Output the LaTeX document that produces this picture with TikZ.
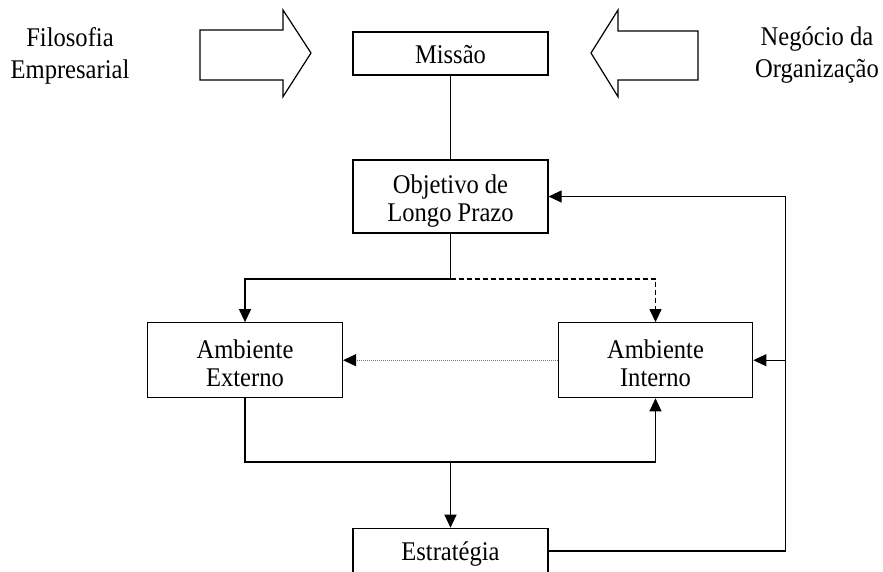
\documentclass[tikz,border=0pt]{standalone}
\usepackage{fontspec}
\setmainfont{Liberation Serif}[FakeStretch=0.91]
\usetikzlibrary{arrows.meta}
\begin{document}
\begin{tikzpicture}[x=1pt,y=-1pt,
  lw/.style={line width=1.2pt},
  boxnode/.style={draw, line width=1.2pt, minimum width=195pt, inner sep=0pt},
  txt/.style={align=center, inner sep=0pt, font=\fontsize{27}{28}\selectfont},
  sidetxt/.style={align=center, inner sep=0pt, font=\fontsize{27}{32}\selectfont},
  conn/.style={line width=1.2pt, -{Triangle[length=13pt,width=12pt]}},
  bigarrow/.style={draw, line width=1.2pt, fill=white, line join=miter}
]
\useasboundingbox (0,0) rectangle (883,571);

% side texts
\node[sidetxt] (fil) at (70,56.3) {Filosofia\\Empresarial};
\node[sidetxt] (neg) at (817,54.9) {Negócio da\\Organização};

% hollow block arrows
\draw[bigarrow] (200,30) -- (283,30) -- (283,10) -- (311,53) -- (283,96.7) -- (283,80) -- (200,80) -- cycle;
\draw[bigarrow] (698,31) -- (618,31) -- (618,10) -- (591,53) -- (618,96.7) -- (618,80) -- (698,80) -- cycle;

% boxes
\node[boxnode, minimum height=43pt] (mis) at (450.5,53.5) {};
\node[boxnode, minimum height=73pt] (obj) at (450.5,196.5) {};
\node[boxnode, minimum height=75pt] (ext) at (245,360.2) {};
\node[boxnode, minimum height=75pt, minimum width=194.5pt] (int) at (655.5,360.2) {};
\node[boxnode, minimum height=45.4pt] (est) at (450.5,551) {};

% box texts
\node[txt] (mist) at (450.5,54.1) {Missão};
\node[txt] (objt) at (450.5,201.3) {Objetivo de\\Longo Prazo};
\node[txt] (extt) at (245,362.8) {Ambiente\\Externo};
\node[txt] (intt) at (655.5,362.8) {Ambiente\\Interno};
\node[txt] (estt) at (450.5,554.5) {Estratégia};

% helper coordinates
\coordinate (split) at (450.5,279);
\coordinate (merge) at (450.5,462);
\coordinate (fbtop) at (785.7,196.5);
\coordinate (fbmid) at (785.7,360.2);

% connectors
\draw[lw] (mis) -- (obj);
\draw[lw] (obj.south) -- (split);
\draw[conn] (split) -| (ext.north);
\draw[conn, dash pattern=on 5pt off 3pt] (split) -| (int.north);
\draw[line width=1pt, draw=black!55, dash pattern=on 1pt off 1pt,
      -{Triangle[length=13pt,width=12pt,color=black]}] (int.west) -- (ext.east);
\draw[lw] (ext.south) |- (merge);
\draw[conn] (merge) -| (int.south);
\draw[conn] (merge) -- (est.north);
\draw[lw] (est.east) -| (fbtop);
\draw[conn] (fbtop) -- (obj.east);
\draw[conn] (fbmid) -- (int.east);
\end{tikzpicture}
\end{document}
